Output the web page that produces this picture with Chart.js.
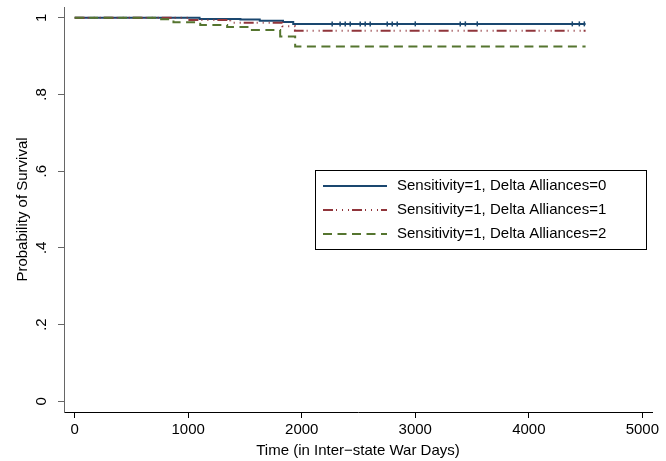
<!DOCTYPE html>
<html>
<head>
<meta charset="utf-8">
<script src="https://cdn.jsdelivr.net/npm/chart.js@4.4.1/dist/chart.umd.min.js"></script>
<style>
  body { margin: 0; background: #fff; }
  canvas { display: block; }
</style>
</head>
<body>
<canvas id="km-chart" width="666" height="461"></canvas>
<script>
// survival curves (time in days, survival probability)
const seriesLabels = [
    'Sensitivity=1, Delta Alliances=0',
    'Sensitivity=1, Delta Alliances=1',
    'Sensitivity=1, Delta Alliances=2'
];
const blueTimes = [0, 1100, 1460, 1630, 1835, 1925, 4500];
const blueSurv = [1, 0.997, 0.9956, 0.992, 0.989, 0.984, 0.984];
const redTimes = [0, 1000, 1370, 1830, 1940, 4500];
const redSurv = [1, 0.994, 0.987, 0.978, 0.966, 0.966];
const greenTimes = [0, 750, 870, 1106, 1343, 1540, 1810, 1942, 4500];
const greenSurv = [1, 0.996, 0.988, 0.981, 0.976, 0.968, 0.951, 0.925, 0.925];
// censoring marks seen on the top curve
const blueCensored = [2268, 2338, 2383, 2427, 2515, 2559, 2603, 2753, 2797, 2841, 3000, 3396, 3441, 3546, 4383, 4445, 4489];

const xTicks = [0, 1000, 2000, 3000, 4000, 5000];
const yTicks = [0, 0.2, 0.4, 0.6, 0.8, 1];

const colors = ['#1a476f', '#90353b', '#55752f'];
const dashes = [[], [10, 3, 1, 5, 1, 5, 1, 3], [9, 5.5]];
const FONT = 'Liberation Sans, Arial, Helvetica, sans-serif';

function toPoints(ts, ss) {
    const pts = [];
    for (let i = 0; i < ts.length; i++)
        pts.push({ x: ts[i], y: ss[i] });
    return pts;
}

function survAt(ts, ss, t) {
    let v = ss[0];
    for (let i = 0; i < ts.length; i++)
        if (ts[i] <= t) v = ss[i];
    return v;
}

function curve(idx, ts, ss, order) {
    return {
        label: seriesLabels[idx],
        data: toPoints(ts, ss),
        stepped: true,
        borderColor: colors[idx],
        borderWidth: 2,
        borderDash: dashes[idx],
        pointRadius: 0,
        fill: false,
        order: order
    };
}

// legend drawn inside the plot, like the original
const boxLegend = {
    id: 'boxLegend',
    afterDraw(chart) {
        const ctx = chart.ctx;
        const x0 = 315.5, y0 = 170.5, w = 331, h = 79;
        ctx.save();
        ctx.fillStyle = '#fff';
        ctx.fillRect(x0, y0, w, h);
        ctx.strokeStyle = '#000';
        ctx.lineWidth = 1;
        ctx.strokeRect(x0, y0, w, h);
        const rows = [186, 210, 234];
        for (let i = 0; i < 3; i++) {
            ctx.beginPath();
            ctx.strokeStyle = colors[i];
            ctx.lineWidth = 2;
            ctx.setLineDash(dashes[i]);
            ctx.moveTo(323, rows[i]);
            ctx.lineTo(387, rows[i]);
            ctx.stroke();
            ctx.setLineDash([]);
            ctx.fillStyle = '#000';
            ctx.font = '15px ' + FONT;
            ctx.textBaseline = 'middle';
            ctx.textAlign = 'left';
            ctx.fillText(seriesLabels[i], 397, rows[i]);
        }
        ctx.restore();
    }
};

const data = {
    datasets: [
        curve(0, blueTimes, blueSurv, 2),
        curve(1, redTimes, redSurv, 1),
        curve(2, greenTimes, greenSurv, 0),
        {
            label: 'censored',
            data: blueCensored.map(t => ({ x: t, y: survAt(blueTimes, blueSurv, t) })),
            showLine: false,
            pointStyle: 'line',
            rotation: 90,
            pointRadius: 2.5,
            borderColor: colors[0],
            borderWidth: 1.5,
            order: 3
        }
    ]
};

const config = {
    type: 'line',
    data: data,
    options: {
        responsive: false,
        devicePixelRatio: 1,
        animation: false,
        layout: { padding: { top: 7, right: 14, left: 0, bottom: 0 } },
        plugins: {
            legend: { display: false },
            tooltip: { enabled: false }
        },
        scales: {
            x: {
                type: 'linear',
                min: -94,
                max: 5085,
                afterBuildTicks: s => { s.ticks = xTicks.map(v => ({ value: v })); },
                afterFit: s => { s.height = 49; s.paddingLeft = 0; s.paddingRight = 0; },
                grid: { drawOnChartArea: false, drawTicks: true, tickLength: 6, color: '#000' },
                border: { color: '#000', width: 1 },
                ticks: {
                    color: '#000',
                    font: { family: FONT, size: 15 },
                    padding: 3,
                    maxRotation: 0,
                    autoSkip: false,
                    callback: v => String(v)
                },
                title: {
                    display: true,
                    text: 'Time (in Inter\u2212state War Days)',
                    color: '#000',
                    font: { family: FONT, size: 15 },
                    padding: { top: 0, bottom: 1 }
                }
            },
            y: {
                type: 'linear',
                min: -0.028,
                max: 1.028,
                afterBuildTicks: s => { s.ticks = yTicks.map(v => ({ value: v })); },
                afterFit: s => { s.width = 64; s.paddingTop = 0; s.paddingBottom = 0; },
                grid: { drawOnChartArea: false, drawTicks: true, tickLength: 6, color: '#666' },
                border: { color: '#666', width: 1 },
                ticks: {
                    color: '#000',
                    font: { family: FONT, size: 15 },
                    minRotation: 90,
                    maxRotation: 90,
                    crossAlign: 'center',
                    padding: 10,
                    callback: v => v === 0 ? '0' : v === 1 ? '1' : v.toFixed(1).replace(/^0/, '')
                },
                title: {
                    display: true,
                    text: 'Probability of Survival',
                    color: '#000',
                    font: { family: FONT, size: 15 },
                    padding: { top: 14, bottom: 0 }
                }
            }
        }
    },
    plugins: [boxLegend]
};

let ctx = document.getElementById('km-chart').getContext('2d');
new Chart(ctx, config);
</script>
</body>
</html>
